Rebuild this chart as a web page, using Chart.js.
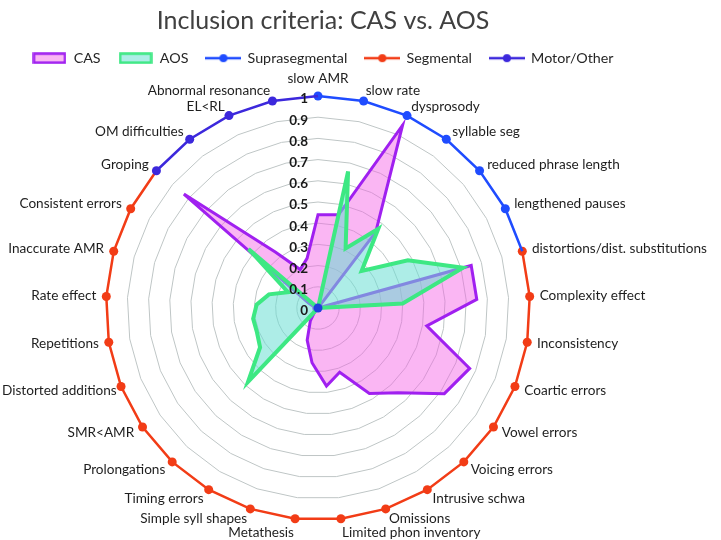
<!DOCTYPE html>
<html><head><meta charset="utf-8">
<script src="https://cdn.jsdelivr.net/npm/chart.js@4.4.0/dist/chart.umd.min.js"></script>
<style>html,body{margin:0;padding:0;background:#fff}#wrap{width:721px;height:540px;position:relative}</style>
</head><body><div id="wrap"><canvas id="c" width="721" height="540"></canvas></div>
<script>
const categories = ['slow AMR','slow rate','dysprosody','syllable seg','reduced phrase length','lengthened pauses',
  'distortions/dist. substitutions','Complexity effect','Inconsistency','Coartic errors','Vowel errors','Voicing errors',
  'Intrusive schwa','Omissions','Limited phon inventory','Metathesis','Simple syll shapes','Timing errors',
  'Prolongations','SMR<AMR','Distorted additions','Repetitions','Rate effect','Inaccurate AMR','Consistent errors',
  'Groping','OM difficulties','EL<RL','Abnormal resonance'];
// group each category belongs to: S = Suprasegmental, G = Segmental, M = Motor/Other
const categoryGroup = ['S','S','S','S','S','S','G','G','G','G','G','G','G','G','G','G','G','G','G','G','G','G','G','G','G','M','M','M','M'];
const casValues = [0.44,0.45,0.95,0.45,0,0,0.75,0.75,0.52,0.77,0.72,0.55,0.47,0.32,0.37,0.26,0.16,0.07,0.02,0.02,0.02,0.02,0.02,0.02,0.05,0.83,0.33,0.20,0.24];
const aosValues = [0,0.66,0.31,0.47,0.27,0.48,0.71,0.40,0,0,0,0,0,0,0,0,0,0,0.48,0.33,0.31,0.31,0.29,0.24,0.16,0.43,0,0,0];
const suprasegmental = [1,1,1,1,1,1,1,null,null,null,null,null,null,null,null,null,null,null,null,null,null,null,null,null,null,null,null,null,null];
const segmental = [null,null,null,null,null,null,1,1,1,1,1,1,1,1,1,1,1,1,1,1,1,1,1,1,1,1,null,null,null];
const motorOther = [1,null,null,null,null,null,null,null,null,null,null,null,null,null,null,null,null,null,null,null,null,null,null,null,null,1,1,1,1];
const centerMarker = [0,null,null,null,null,null,null,null,null,null,null,null,null,null,null,null,null,null,null,null,null,null,null,null,null,null,null,null,null];
const tickValues = [0,0.1,0.2,0.3,0.4,0.5,0.6,0.7,0.8,0.9,1];
const tickLabels = ['0','0.1','0.2','0.3','0.4','0.5','0.6','0.7','0.8','0.9','1'];

const COL = {
  casFill:'rgba(245,95,228,0.46)', casLine:'#a020f0',
  aosFill:'rgba(105,222,212,0.55)', aosLine:'#3de883',
  supra:'#1f4cff', seg:'#f23c16', motor:'#3c28dc'
};
const FONT = 'Lato';

function boxIcon(fill, stroke){
  const c = document.createElement('canvas'); c.width = 34; c.height = 12;
  const x = c.getContext('2d');
  x.fillStyle = '#fff'; x.fillRect(1.5,1.5,31,9);
  x.fillStyle = fill; x.fillRect(1.5,1.5,31,9);
  x.strokeStyle = stroke; x.lineWidth = 2.5; x.strokeRect(1.5,1.5,31,9);
  return c;
}
function lineIcon(color){
  const c = document.createElement('canvas'); c.width = 36; c.height = 12;
  const x = c.getContext('2d');
  x.strokeStyle = color; x.lineWidth = 2.5;
  x.beginPath(); x.moveTo(0,6); x.lineTo(36,6); x.stroke();
  x.fillStyle = color; x.beginPath(); x.arc(18,6,4,0,Math.PI*2); x.fill();
  return c;
}
const legendIcons = [boxIcon(COL.casFill, COL.casLine), boxIcon(COL.aosFill, COL.aosLine),
  lineIcon(COL.supra), lineIcon(COL.seg), lineIcon(COL.motor)];

const memberRadius = g => ctx => categoryGroup[ctx.dataIndex] === g ? 4.5 : 0;

const labelPlugin = {
  id: 'labelPlugin',
  afterDatasetsDraw(chart){
    const s = chart.scales.r; const ctx = chart.ctx;
    ctx.save();
    ctx.font = '13.6px ' + FONT; ctx.fillStyle = '#1e1e1e'; ctx.textBaseline = 'middle';
    const h = 15;
    categories.forEach((lab, i) => {
      const ang = s.getIndexAngle(i);
      const sn = Math.sin(ang), cs = Math.cos(ang);
      const p = s.getPointPosition(i, s.drawingArea + 10);
      let align = 'center';
      if (sn > 0.05) align = 'left'; else if (sn < -0.05) align = 'right';
      const f = Math.max(0, 1 - Math.abs(sn) / 0.25);
      let x = p.x;
      const w = ctx.measureText(lab).width;
      if (align === 'right' && x - w < 2) x = w + 2;
      if (align === 'left' && x + w > chart.width - 2) x = chart.width - 2 - w;
      ctx.textAlign = align;
      ctx.fillText(lab, x, p.y - cs * h / 2 * f);
    });
    ctx.font = 'bold 13.5px ' + FONT; ctx.fillStyle = '#1a1a1a'; ctx.textAlign = 'right';
    tickValues.forEach((v, i) => {
      const d = s.getDistanceFromCenterForValue(v);
      ctx.fillText(tickLabels[i], s.xCenter - 10, s.yCenter - d + 3);
    });
    ctx.restore();
  }
};

new Chart(document.getElementById('c'), {
  type: 'radar',
  data: {
    labels: categories,
    datasets: [
      { label:'CAS', data: casValues, fill:true, backgroundColor: COL.casFill, borderColor: COL.casLine, borderWidth:3, pointRadius:0, order:3 },
      { label:'AOS', data: aosValues, fill:true, backgroundColor: COL.aosFill, borderColor: COL.aosLine, borderWidth:4, pointRadius:0, order:2 },
      { label:'Suprasegmental', data: suprasegmental, fill:false, borderColor: COL.supra, backgroundColor: COL.supra, borderWidth:2.5, pointRadius: memberRadius('S'), pointBackgroundColor: COL.supra, pointBorderWidth:0, order:1 },
      { label:'Segmental', data: segmental, fill:false, borderColor: COL.seg, backgroundColor: COL.seg, borderWidth:2.5, pointRadius: memberRadius('G'), pointBackgroundColor: COL.seg, pointBorderWidth:0, order:1 },
      { label:'Motor/Other', data: motorOther, fill:false, borderColor: COL.motor, backgroundColor: COL.motor, borderWidth:2.5, pointRadius: memberRadius('M'), pointBackgroundColor: COL.motor, pointBorderWidth:0, order:0 },
      { label:'center', data: centerMarker, fill:false, showLine:false, pointRadius:4.5, pointBackgroundColor:'#1f3fdc', pointBorderWidth:0, order:0 }
    ]
  },
  options: {
    responsive:false, animation:false,
    layout:{ padding:{ left:0, right:75, top:0, bottom:0 } },
    elements:{ line:{ tension:0 } },
    scales: {
      r: {
        min:0, max:1,
        ticks:{ stepSize:0.1, display:false },
        grid:{ color:'#bfc6c6', lineWidth:1, circular:false },
        angleLines:{ display:false },
        pointLabels:{ display:false },
        afterFit(scale){ scale.xCenter = 318; scale.yCenter = 308; scale.drawingArea = 212; }
      }
    },
    plugins: {
      title:{ display:true, text:'Inclusion criteria: CAS vs. AOS', color:'#404040', font:{family:FONT, size:25, weight:'normal', lineHeight:1}, padding:{top:8,bottom:0} },
      legend:{ position:'top',
        labels:{ usePointStyle:true, pointStyleWidth:34, boxHeight:12, padding:18, color:'#262626', font:{family:FONT, size:14.3},
          generateLabels: chart => chart.data.datasets.slice(0,5).map((ds,i)=>({ text:ds.label, pointStyle:legendIcons[i], datasetIndex:i, hidden:false, lineWidth:0, fillStyle:'rgba(0,0,0,0)', strokeStyle:'rgba(0,0,0,0)', fontColor:'#262626' }))
        }
      },
      tooltip:{ enabled:false }
    }
  },
  plugins:[labelPlugin]
});
</script>
</body></html>
